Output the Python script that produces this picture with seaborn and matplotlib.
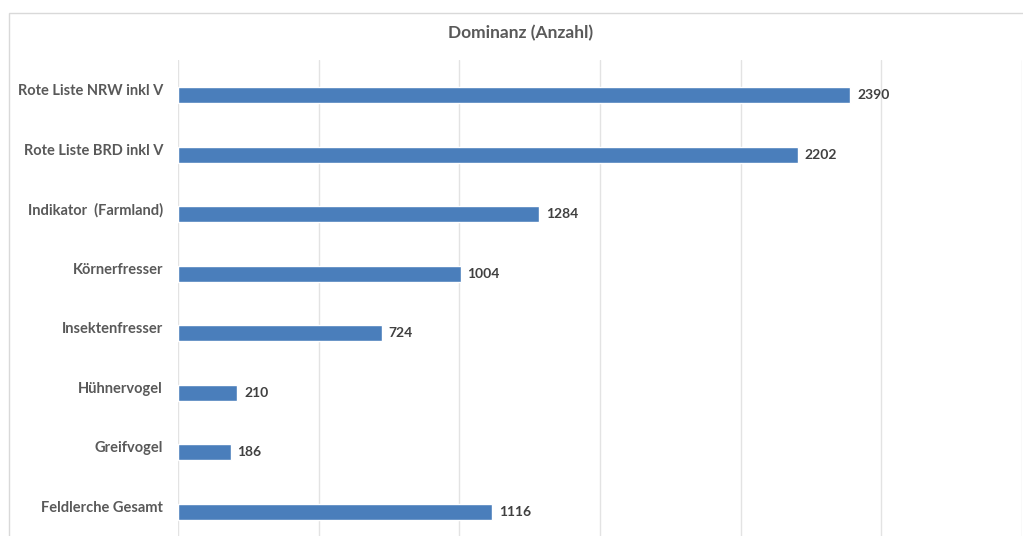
import matplotlib
matplotlib.use("Agg")
import matplotlib.pyplot as plt
import matplotlib.transforms as mtransforms
from matplotlib.patches import Rectangle
import seaborn as sns
import pandas as pd

categories = [
    "Rote Liste NRW inkl V",
    "Rote Liste BRD inkl V",
    "Indikator  (Farmland)",
    "Körnerfresser",
    "Insektenfresser",
    "Hühnervogel",
    "Greifvogel",
    "Feldlerche Gesamt",
]
counts = [2390, 2202, 1284, 1004, 724, 210, 186, 1116]
x_ticks = [0, 500, 1000, 1500, 2000, 2500, 3000]
title = "Dominanz (Anzahl)"

sns.set_theme(style="white")
plt.rcParams["font.family"] = ["Lato", "DejaVu Sans"]

W, H = 1023, 536
fig = plt.figure(figsize=(W / 100, H / 100), dpi=100)
fig.patch.set_facecolor("white")

# chart frame (runs off the right and bottom edges)
fig.patches.append(Rectangle((9 / W, -0.05), 1.1, 1 - 13 / H + 0.05,
                             transform=fig.transFigure, fill=False,
                             edgecolor="#d9d9d9", linewidth=1.0))

top_px, bot_px = 60, 536
left_px, right_px = 178.3, 1021.9
ax = fig.add_axes([left_px / W, 1 - bot_px / H,
                   (right_px - left_px) / W, (bot_px - top_px) / H])

df = pd.DataFrame({"Kategorie": categories, "Anzahl": counts})
sns.barplot(data=df, y="Kategorie", x="Anzahl", order=categories,
            orient="h", color="#4a7ebb", saturation=1, width=0.27, ax=ax)

band = (bot_px - top_px) / 8.0
shift = 5.5 / band
ax.set_ylim(-0.5 - shift + (bot_px - top_px) / band, -0.5 - shift)
ax.set_xlim(0, 3000)
ax.set_xticks(x_ticks)
ax.set_xticklabels([])
ax.tick_params(axis="x", length=0)
ax.tick_params(axis="y", length=0, pad=11)
ax.xaxis.grid(True, color="#e3e3e3", linewidth=1.0)
ax.set_axisbelow(True)
for s in ax.spines.values():
    s.set_visible(False)
ax.set_xlabel("")
ax.set_ylabel("")

for lbl in ax.get_yticklabels():
    lbl.set_fontsize(10.5)
    lbl.set_fontweight("bold")
    lbl.set_color("#595959")
    lbl.set_transform(lbl.get_transform() +
                      mtransforms.ScaledTranslation(0, 5.5 / 100, fig.dpi_scale_trans))

ax.bar_label(ax.containers[0], labels=[str(v) for v in counts], padding=5,
             fontsize=10, fontweight="bold", color="#404040")

fig.text(521 / W, 1 - 33 / H, title, ha="center", va="center",
         fontsize=12.5, fontweight="bold", color="#595959")

fig.savefig("out.png", dpi=100)
